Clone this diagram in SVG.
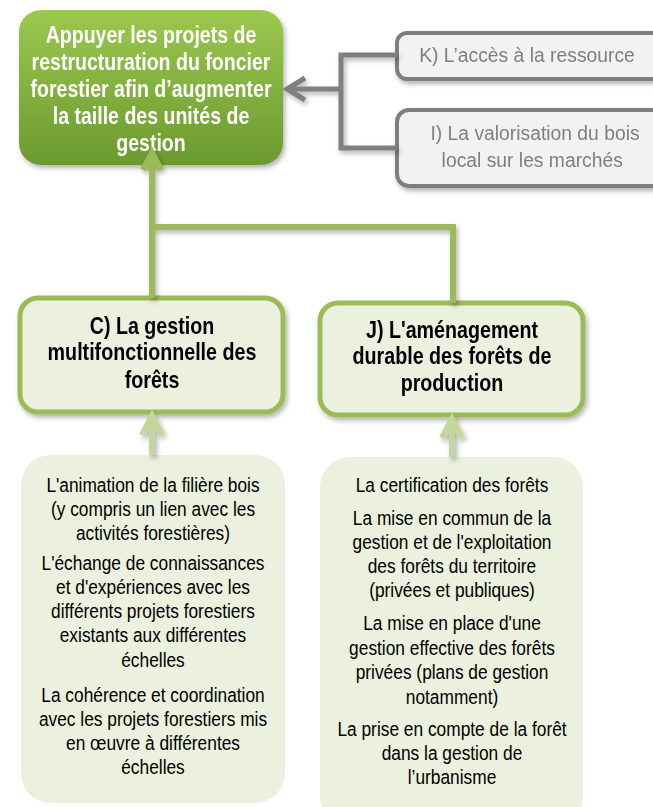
<svg xmlns="http://www.w3.org/2000/svg" width="653" height="807" viewBox="0 0 653 807">
<style>
.title{font-family:"Liberation Sans",Arial,sans-serif;font-weight:bold;font-size:23px;fill:#ffffff;text-anchor:middle}
.gray{font-family:"Liberation Sans",Arial,sans-serif;font-size:21px;fill:#7f7f7f;text-anchor:middle}
.head{font-family:"Liberation Sans",Arial,sans-serif;font-weight:bold;font-size:23px;fill:#000000;text-anchor:middle}
.body{font-family:"Liberation Sans",Arial,sans-serif;font-size:21px;fill:#000000;text-anchor:middle}
.gbox{fill:#f2f2f2;stroke:#7f7f7f;stroke-width:4}
.cbox{fill:#ebf1de;stroke:#9bbb59;stroke-width:5}
.lbox{fill:#ebf1de}
.gline{fill:none;stroke:#7f7f7f;stroke-width:5;stroke-linejoin:miter}
.vline{fill:none;stroke:#9bbb59;stroke-width:6}
.lline{fill:none;stroke:#c3d69b;stroke-width:6}
</style>
<defs>
<linearGradient id="gTop" x1="0" y1="0" x2="0" y2="1">
<stop offset="0" stop-color="#9cc84f"/>
<stop offset="1" stop-color="#6b9a2f"/>
</linearGradient>
<filter id="sh" x="-10%" y="-10%" width="125%" height="130%">
<feDropShadow dx="2" dy="3" stdDeviation="2.5" flood-color="#000" flood-opacity="0.3"/>
</filter>
</defs>

<g id="node-top" filter="url(#sh)">
<rect x="19" y="10" width="264" height="155" rx="22" fill="url(#gTop)"/>
<g transform="translate(151 0) scale(0.85 1)">
<text class="title" x="0" y="43">Appuyer les projets de</text>
<text class="title" x="0" y="70">restructuration du foncier</text>
<text class="title" x="0" y="97">forestier afin d’augmenter</text>
<text class="title" x="0" y="124">la taille des unités de</text>
<text class="title" x="0" y="151">gestion</text>
</g>
</g>

<g id="node-K" filter="url(#sh)">
<rect class="gbox" x="397" y="33" width="270" height="46" rx="10"/>
<g transform="translate(527 0) scale(0.92 1)">
<text class="gray" x="0" y="62">K) L’accès à la ressource</text>
</g>
</g>

<g id="node-I" filter="url(#sh)">
<rect class="gbox" x="397" y="110" width="270" height="76" rx="12"/>
<g transform="translate(535 0) scale(0.92 1)">
<text class="gray" x="0" y="140">I) La valorisation du bois</text>
<text class="gray" x="-3" y="167">local sur les marchés</text>
</g>
</g>

<g id="node-C" filter="url(#sh)">
<rect class="cbox" x="20" y="298" width="263" height="114" rx="18"/>
<g transform="translate(152 0) scale(0.856 1)">
<text class="head" x="0" y="334">C) La gestion</text>
<text class="head" x="0" y="360">multifonctionnelle des</text>
<text class="head" x="0" y="388">forêts</text>
</g>
</g>

<g id="node-J" filter="url(#sh)">
<rect class="cbox" x="320" y="303" width="263" height="112" rx="18"/>
<g transform="translate(452 0) scale(0.856 1)">
<text class="head" x="0" y="338">J) L'aménagement</text>
<text class="head" x="0" y="364">durable des forêts de</text>
<text class="head" x="0" y="391">production</text>
</g>
</g>

<g id="node-left-list">
<rect class="lbox" x="21" y="455" width="264" height="348" rx="30"/>
<g transform="translate(153 0) scale(0.825 1)">
<text class="body" x="0" y="492">L'animation de la filière bois</text>
<text class="body" x="0" y="516">(y compris un lien avec les</text>
<text class="body" x="0" y="540">activités forestières)</text>
<text class="body" x="0" y="570">L'échange de connaissances</text>
<text class="body" x="0" y="594">et d'expériences avec les</text>
<text class="body" x="0" y="618">différents projets forestiers</text>
<text class="body" x="0" y="642">existants aux différentes</text>
<text class="body" x="0" y="667">échelles</text>
<text class="body" x="0" y="702">La cohérence et coordination</text>
<text class="body" x="0" y="726">avec les projets forestiers mis</text>
<text class="body" x="0" y="750">en œuvre à différentes</text>
<text class="body" x="0" y="774">échelles</text>
</g>
</g>

<g id="node-right-list">
<rect class="lbox" x="320" y="457" width="263" height="370" rx="30"/>
<g transform="translate(452 0) scale(0.825 1)">
<text class="body" x="0" y="492">La certification des forêts</text>
<text class="body" x="0" y="525">La mise en commun de la</text>
<text class="body" x="0" y="549">gestion et de l'exploitation</text>
<text class="body" x="0" y="573">des forêts du territoire</text>
<text class="body" x="0" y="597">(privées et publiques)</text>
<text class="body" x="0" y="630">La mise en place d'une</text>
<text class="body" x="0" y="655">gestion effective des forêts</text>
<text class="body" x="0" y="679">privées (plans de gestion</text>
<text class="body" x="0" y="704">notamment)</text>
<text class="body" x="0" y="736">La prise en compte de la forêt</text>
<text class="body" x="0" y="760">dans la gestion de</text>
<text class="body" x="0" y="784">l’urbanisme</text>
</g>
</g>

<g id="connectors" filter="url(#sh)">
<path class="gline" d="M397 55 H341 V148 H397"/>
<path class="gline" d="M341 89 H287"/>
<path class="gline" d="M305 78 L287 89 L305 100"/>
<path class="vline" d="M152 298 V152"/>
<path class="vline" d="M143 170 L152 153 L161 170"/>
<path class="vline" d="M152 227 H453 V303"/>
<path class="lline" d="M152 455 V416"/>
<path class="lline" d="M142 435 L152 416 L162 435"/>
<path class="lline" d="M452 457 V419"/>
<path class="lline" d="M442 438 L452 419 L462 438"/>
</g>
</svg>
